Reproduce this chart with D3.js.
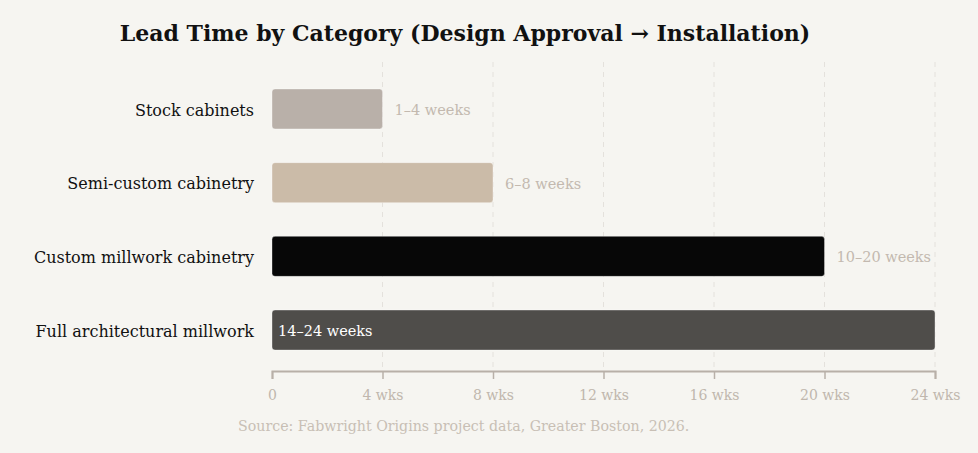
<!DOCTYPE html>
<html>
<head>
<meta charset="utf-8">
<script src="https://cdn.jsdelivr.net/npm/d3@7"></script>
<style>
  html, body { margin: 0; padding: 0; background: #f6f5f1; }
  svg { display: block; font-family: Georgia, "DejaVu Serif", serif; }
</style>
</head>
<body>
<svg id="chart" width="978" height="453"></svg>
<script>
// chart data
const categories = ["Stock cabinets", "Semi-custom cabinetry", "Custom millwork cabinetry", "Full architectural millwork"];
const minWeeks = [1, 6, 10, 14];
const maxWeeks = [4, 8, 20, 24];
const barColors = ["#b9b0a9", "#cbbba8", "#070707", "#4f4d4a"];
const tickValues = [0, 4, 8, 12, 16, 20, 24];

const rows = categories.map((c, i) => ({ name: c, lo: minWeeks[i], hi: maxWeeks[i], color: barColors[i] }));

const svg = d3.select("#chart");

const x = d3.scaleLinear().domain([0, 24]).range([272, 935]);
const y = d3.scaleBand()
    .domain(categories)
    .range([72, 367])
    .paddingInner(0.457)
    .paddingOuter(0.23);

// title
svg.append("text")
    .attr("x", 465)
    .attr("y", 41)
    .attr("text-anchor", "middle")
    .style("font-size", "22px")
    .style("font-weight", "bold")
    .style("fill", "#111")
    .text("Lead Time by Category (Design Approval \u2192 Installation)");

// dashed gridlines
svg.append("g")
  .selectAll("line")
  .data(tickValues.slice(1))
  .join("line")
    .attr("x1", d => x(d)).attr("x2", d => x(d))
    .attr("y1", 62).attr("y2", 370)
    .attr("stroke", "#e4e1dc")
    .attr("stroke-width", 1)
    .attr("stroke-dasharray", "5,5");

// bars
svg.append("g")
  .selectAll("rect")
  .data(rows)
  .join("rect")
    .attr("x", x(0))
    .attr("y", d => y(d.name))
    .attr("width", d => x(d.hi) - x(0))
    .attr("height", y.bandwidth())
    .attr("rx", 3)
    .attr("fill", d => d.color)
    .attr("stroke", "rgba(255,255,255,0.35)")
    .attr("stroke-width", 1);

// value labels
svg.append("g")
  .selectAll("text")
  .data(rows)
  .join("text")
    .attr("x", d => d.hi >= 24 ? x(0) + 6 : x(d.hi) + 12)
    .attr("y", d => y(d.name) + y.bandwidth() / 2)
    .attr("dy", "0.42em")
    .style("font-size", "14.5px")
    .style("fill", d => d.hi >= 24 ? "#ffffff" : "#c3b9af")
    .text(d => `${d.lo}\u2013${d.hi} weeks`);

// category labels
svg.append("g")
  .selectAll("text")
  .data(rows)
  .join("text")
    .attr("x", 254)
    .attr("y", d => y(d.name) + y.bandwidth() / 2)
    .attr("dy", "0.42em")
    .attr("text-anchor", "end")
    .style("font-size", "16px")
    .style("fill", "#111")
    .text(d => d.name);

// x axis
const axis = svg.append("g")
    .attr("transform", "translate(0,371)")
    .call(d3.axisBottom(x)
        .tickValues(tickValues)
        .tickSize(8)
        .tickPadding(11)
        .tickFormat(d => d === 0 ? "0" : `${d} wks`));

axis.select(".domain").attr("stroke", "#b8b0a8").attr("stroke-width", 2);
axis.selectAll(".tick line").attr("stroke", "#b8b0a8").attr("stroke-width", 1.5);
axis.selectAll(".tick text")
    .style("font-family", "Georgia, 'DejaVu Serif', serif")
    .style("font-size", "14px")
    .style("fill", "#c0b7ad");

// source note
svg.append("text")
    .attr("x", 238)
    .attr("y", 431)
    .style("font-size", "14.2px")
    .style("fill", "#c8bfb5")
    .text("Source: Fabwright Origins project data, Greater Boston, 2026.");
</script>
</body>
</html>
